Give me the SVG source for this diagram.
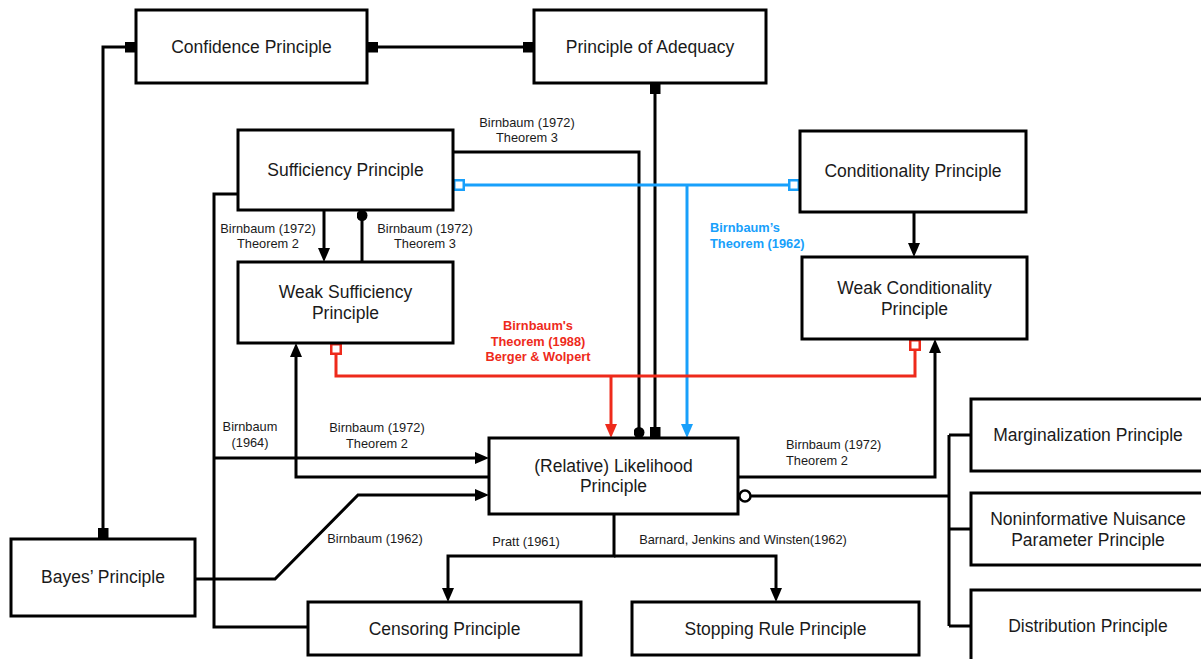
<svg xmlns="http://www.w3.org/2000/svg" width="1201" height="659" viewBox="0 0 1201 659">
<style>
.box{fill:#fff;stroke:#000;stroke-width:3}
.nt{font-family:"Liberation Sans",Arial,sans-serif;font-size:17.5px;fill:#1a1a1a;text-anchor:middle;dominant-baseline:central}
.lb{font-family:"Liberation Sans",Arial,sans-serif;font-size:12.8px;fill:#1a1a1a;text-anchor:middle;dominant-baseline:central}
.lbl{text-anchor:start}
.red{fill:#ee2a1b;font-weight:bold}
.blue{fill:#18a0fb;font-weight:bold}
.k{fill:none;stroke:#000;stroke-width:3}
.r{fill:none;stroke:#ee2a1b;stroke-width:3}
.b{fill:none;stroke:#18a0fb;stroke-width:3}
</style>
<defs>
<marker id="arr" viewBox="0 0 14 12" refX="7" refY="6" markerWidth="14" markerHeight="12" markerUnits="userSpaceOnUse" orient="auto-start-reverse"><path d="M0,0 L14,6 L0,12 z" fill="#000"/></marker>
<marker id="arrR" viewBox="0 0 14 12" refX="7" refY="6" markerWidth="14" markerHeight="12" markerUnits="userSpaceOnUse" orient="auto-start-reverse"><path d="M0,0 L14,6 L0,12 z" fill="#ee2a1b"/></marker>
<marker id="arrB" viewBox="0 0 14 12" refX="7" refY="6" markerWidth="14" markerHeight="12" markerUnits="userSpaceOnUse" orient="auto-start-reverse"><path d="M0,0 L14,6 L0,12 z" fill="#18a0fb"/></marker>
<marker id="sq" viewBox="0 0 11 11" refX="11" refY="5.5" markerWidth="11" markerHeight="11" markerUnits="userSpaceOnUse" orient="auto-start-reverse"><rect x="0" y="0" width="11" height="11" fill="#000"/></marker>
<marker id="dot" viewBox="0 0 11 11" refX="11" refY="5.5" markerWidth="11" markerHeight="11" markerUnits="userSpaceOnUse" orient="auto-start-reverse"><circle cx="5.5" cy="5.5" r="5.5" fill="#000"/></marker>
<marker id="osqB" viewBox="0 0 12 12" refX="12" refY="6" markerWidth="12" markerHeight="12" markerUnits="userSpaceOnUse" orient="auto-start-reverse"><rect x="1.25" y="1.25" width="9.5" height="9.5" fill="#fff" stroke="#18a0fb" stroke-width="2.5"/></marker>
<marker id="osqR" viewBox="0 0 12 12" refX="12" refY="6" markerWidth="12" markerHeight="12" markerUnits="userSpaceOnUse" orient="auto-start-reverse"><rect x="1.25" y="1.25" width="9.5" height="9.5" fill="#fff" stroke="#ee2a1b" stroke-width="2.5"/></marker>
<marker id="ocirc" viewBox="0 0 14 14" refX="14" refY="7" markerWidth="14" markerHeight="14" markerUnits="userSpaceOnUse" orient="auto-start-reverse"><circle cx="7" cy="7" r="5.5" fill="#fff" stroke="#000" stroke-width="2.5"/></marker>
</defs>

<g id="connectors">
<path class="k" d="M136,47 H103 V539" marker-start="url(#sq)" marker-end="url(#sq)"/>
<path class="k" d="M367,47 H534" marker-start="url(#sq)" marker-end="url(#sq)"/>
<path class="k" d="M655,83 V438" marker-start="url(#sq)" marker-end="url(#sq)"/>
<path class="k" d="M453,152 H639 V438" marker-end="url(#dot)"/>
<path class="k" d="M324,210 V255" marker-end="url(#arr)"/>
<path class="k" d="M362,262 V210" marker-end="url(#dot)"/>
<path class="k" d="M914,212 V250" marker-end="url(#arr)"/>
<path class="k" d="M238,194 H214 V627 H308"/>
<path class="k" d="M214,458 H482" marker-end="url(#arr)"/>
<path class="k" d="M489,477 H296 V350" marker-end="url(#arr)"/>
<path class="k" d="M195,579 H275 L358,495 H482" marker-end="url(#arr)"/>
<path class="k" d="M738,477 H935 V346" marker-end="url(#arr)"/>
<path class="k" d="M738,496 H949" marker-start="url(#ocirc)"/>
<path class="k" d="M949,435 V626 M949,435 H971 M949,529 H971 M949,626 H971"/>
<path class="k" d="M614,514 V556 H448 V595" marker-end="url(#arr)"/>
<path class="k" d="M614,556 H776 V595" marker-end="url(#arr)"/>
<path class="b" d="M453,185 H800" marker-start="url(#osqB)" marker-end="url(#osqB)"/>
<path class="b" d="M687,185 V431" marker-end="url(#arrB)"/>
<path class="r" d="M336,343 V376 H915 V339" marker-start="url(#osqR)" marker-end="url(#osqR)"/>
<path class="r" d="M611,376 V431" marker-end="url(#arrR)"/>
<text class="lb" x="527" y="122">Birnbaum (1972)</text>
<text class="lb" x="527" y="137">Theorem 3</text>
<text class="lb" x="268" y="228">Birnbaum (1972)</text>
<text class="lb" x="268" y="243">Theorem 2</text>
<text class="lb" x="425" y="228">Birnbaum (1972)</text>
<text class="lb" x="425" y="243">Theorem 3</text>
<text class="lb lbl blue" x="710" y="227">Birnbaum’s</text>
<text class="lb lbl blue" x="710" y="243">Theorem (1962)</text>
<text class="lb red" x="538" y="325">Birnbaum's</text>
<text class="lb red" x="538" y="341">Theorem (1988)</text>
<text class="lb red" x="538" y="356">Berger &amp; Wolpert</text>
<text class="lb" x="250" y="426">Birnbaum</text>
<text class="lb" x="250" y="442">(1964)</text>
<text class="lb" x="377" y="427">Birnbaum (1972)</text>
<text class="lb" x="377" y="443">Theorem 2</text>
<text class="lb" x="375" y="538">Birnbaum (1962)</text>
<text class="lb lbl" x="786" y="444">Birnbaum (1972)</text>
<text class="lb lbl" x="786" y="460">Theorem 2</text>
<text class="lb" x="526" y="541">Pratt (1961)</text>
<text class="lb" x="743" y="539">Barnard, Jenkins and Winsten(1962)</text>
</g>

<g id="confidence"><rect class="box" x="136" y="10" width="231" height="73"/><text class="nt" x="251.5" y="47">Confidence Principle</text></g>
<g id="adequacy"><rect class="box" x="534" y="10" width="232" height="73"/><text class="nt" x="650" y="47">Principle of Adequacy</text></g>
<g id="sufficiency"><rect class="box" x="238" y="130" width="215" height="80"/><text class="nt" x="345.5" y="170">Sufficiency Principle</text></g>
<g id="conditionality"><rect class="box" x="800" y="131" width="226" height="81"/><text class="nt" x="913" y="171">Conditionality Principle</text></g>
<g id="weak-sufficiency"><rect class="box" x="238" y="262" width="215" height="81"/><text class="nt" x="345.5" y="292">Weak Sufficiency</text><text class="nt" x="345.5" y="313">Principle</text></g>
<g id="weak-conditionality"><rect class="box" x="802" y="257" width="225" height="82"/><text class="nt" x="914.5" y="288">Weak Conditionality</text><text class="nt" x="914.5" y="309">Principle</text></g>
<g id="likelihood"><rect class="box" x="489" y="438" width="249" height="76"/><text class="nt" x="613.5" y="466">(Relative) Likelihood</text><text class="nt" x="613.5" y="486">Principle</text></g>
<g id="marginalization"><rect class="box" x="971" y="399" width="240" height="72"/><text class="nt" x="1088" y="435">Marginalization Principle</text></g>
<g id="noninformative"><rect class="box" x="971" y="493" width="240" height="72"/><text class="nt" x="1088" y="519">Noninformative Nuisance</text><text class="nt" x="1088" y="540">Parameter Principle</text></g>
<g id="distribution"><rect class="box" x="971" y="590" width="240" height="80"/><text class="nt" x="1088" y="626">Distribution Principle</text></g>
<g id="bayes"><rect class="box" x="11" y="539" width="184" height="77"/><text class="nt" x="103" y="577">Bayes’ Principle</text></g>
<g id="censoring"><rect class="box" x="308" y="602" width="273" height="53"/><text class="nt" x="444.5" y="629">Censoring Principle</text></g>
<g id="stopping"><rect class="box" x="632" y="602" width="287" height="53"/><text class="nt" x="775.5" y="629">Stopping Rule Principle</text></g>
</svg>
